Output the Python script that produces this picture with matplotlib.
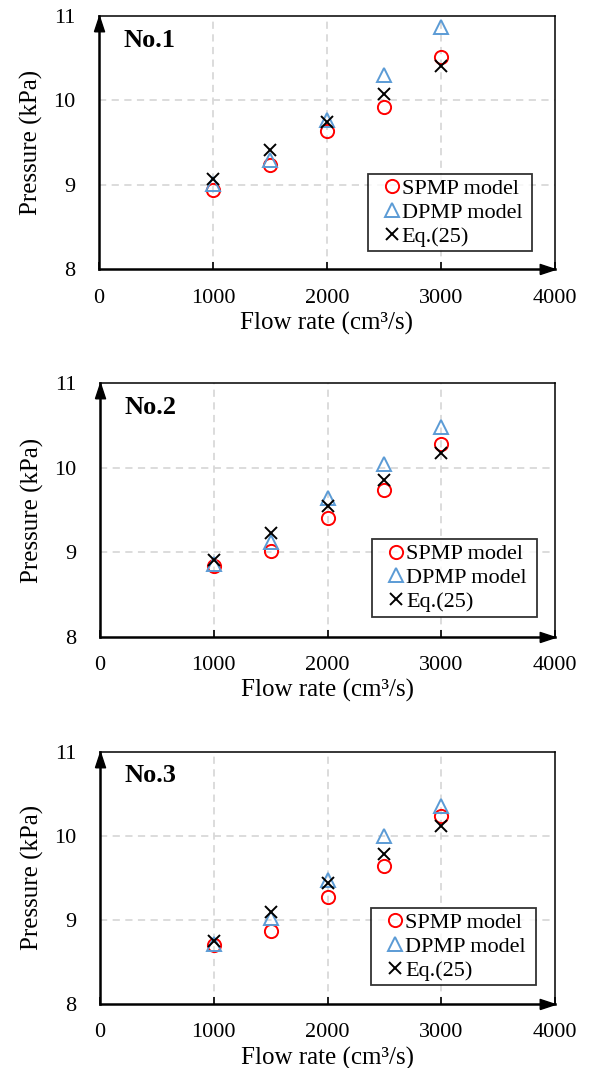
import matplotlib
matplotlib.use("Agg")
import matplotlib.pyplot as plt

plt.rcParams['font.family'] = ['Liberation Serif', 'DejaVu Serif']

# Flow rate (cm3/s)
flow = [1000, 1500, 2000, 2500, 3000]

# Pressure (kPa) for the three cases
panels = ["No.1", "No.2", "No.3"]
spmp = [
    [8.94, 9.24, 9.64, 9.92, 10.51],
    [8.83, 9.01, 9.40, 9.74, 10.28],
    [8.70, 8.87, 9.27, 9.64, 10.24],
]
dpmp = [
    [9.01, 9.29, 9.77, 10.30, 10.87],
    [8.86, 9.12, 9.64, 10.05, 10.48],
    [8.71, 9.02, 9.47, 10.00, 10.35],
]
eq25 = [
    [9.07, 9.41, 9.74, 10.08, 10.41],
    [8.91, 9.23, 9.55, 9.86, 10.18],
    [8.75, 9.09, 9.44, 9.79, 10.12],
]

xticks = [0, 1000, 2000, 3000, 4000]
yticks = [8, 9, 10, 11]

fig = plt.figure(figsize=(5.95, 10.68), dpi=100)

# axes boxes in figure fractions (left, bottom, width, height)
boxes = [
    (0.166, 0.748, 0.767, 0.237),
    (0.168, 0.404, 0.765, 0.237),
    (0.168, 0.060, 0.765, 0.236),
]
legend_anchor = [(0.95, 0.071), (0.96, 0.079), (0.958, 0.075)]

# arrow heads, tip at the origin of the marker path
up_arrow = [(-0.33, -1), (0.33, -1), (0, 0), (-0.33, -1)]
right_arrow = [(-1, -0.33), (-1, 0.33), (0, 0), (-1, -0.33)]

for i in range(3):
    ax = fig.add_axes(boxes[i])
    ax.set_xlim(0, 4000)
    ax.set_ylim(8, 11)
    ax.set_xticks(xticks)
    ax.set_yticks(yticks)

    # dashed light grid only inside (Excel style)
    for gx in [1000, 2000, 3000]:
        ax.axvline(gx, color='#d9d9d9', lw=1.3, ls=(0, (4, 3)), zorder=0)
    for gy in [9, 10]:
        ax.axhline(gy, color='#d9d9d9', lw=1.3, ls=(0, (4, 3)), zorder=0)

    # trailing space gives the legend box a bit of room on the right
    ax.plot(flow, spmp[i], ls='none', marker='o', ms=9.5, mfc='none',
            mec='#ff0000', mew=1.4, label='SPMP model ', zorder=3)
    ax.plot(flow, dpmp[i], ls='none', marker='^', ms=9.8, mfc='none',
            mec='#5b9bd5', mew=1.4, label='DPMP model ', zorder=3)
    ax.plot(flow, eq25[i], ls='none', marker='x', ms=9, mec='black',
            mew=1.4, label='Eq.(25)', zorder=4)

    for side in ['top', 'right']:
        ax.spines[side].set_linewidth(1.1)
    for side in ['left', 'bottom']:
        ax.spines[side].set_linewidth(1.8)

    ax.plot(0, 1, marker=up_arrow, ms=22, color='black', transform=ax.transAxes,
            clip_on=False, zorder=5)
    ax.plot(1, 0, marker=right_arrow, ms=22, color='black', transform=ax.transAxes,
            clip_on=False, zorder=5)

    ax.tick_params(axis='x', direction='in', length=5, width=1.2,
                   labelsize=16, pad=14)
    ax.tick_params(axis='y', length=0, labelsize=16, pad=17)

    ax.set_xlabel('Flow rate (cm³/s)', fontsize=18, labelpad=3)
    ax.set_ylabel('Pressure (kPa)', fontsize=18, labelpad=7)

    ax.text(0.055, 0.905, panels[i], transform=ax.transAxes, fontsize=19,
            fontweight='bold', va='center', ha='left')

    leg = ax.legend(loc='lower right', bbox_to_anchor=legend_anchor[i],
                    fontsize=16, frameon=True, fancybox=False,
                    edgecolor='black', handlelength=1.75, handletextpad=-0.42,
                    borderpad=0.2, labelspacing=0.15, borderaxespad=0)
    leg.get_frame().set_linewidth(1.3)

fig.savefig('out.png', dpi=100)
